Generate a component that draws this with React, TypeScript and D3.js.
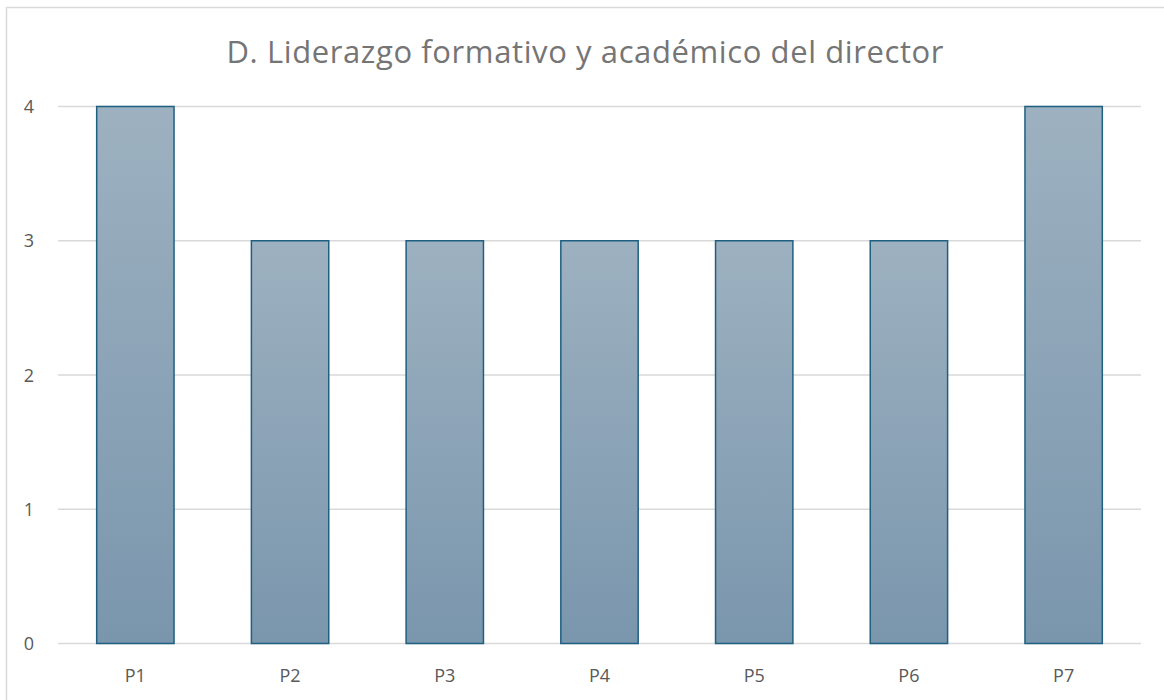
import React from "react";
import * as d3 from "d3";

const categories = ["P1", "P2", "P3", "P4", "P5", "P6", "P7"];
const values = [4, 3, 3, 3, 3, 3, 4];
const yTicks = [0, 1, 2, 3, 4];
const title = "D. Liderazgo formativo y académico del director";

export default function App() {
  const W = 1164, H = 700;
  const plot = { left: 58, right: 1141, top: 106.5, bottom: 643.5 };
  const x = d3.scaleBand<string>().domain(categories).range([plot.left, plot.right]).paddingInner(0.5).paddingOuter(0.25);
  const y = d3.scaleLinear().domain([0, 4]).range([plot.bottom, plot.top]);
  const font = "'Open Sans', 'Noto Sans', sans-serif";
  return (
    <div style={{ position: "absolute", left: 0, top: 0 }}>
      <svg width={W} height={H} style={{ display: "block" }}>
        <defs>
          <linearGradient id="barGrad" x1="0" y1="0" x2="0" y2="1">
            <stop offset="0%" stopColor="#9db1c0" />
            <stop offset="100%" stopColor="#7a96ad" />
          </linearGradient>
        </defs>
        <rect x={0} y={0} width={W} height={H} fill="#fff" />
        <rect x={6.5} y={7.5} width={1300} height={800} fill="#fff" stroke="#d9d9d9" strokeWidth={1.5} />
        <text x={585} y={63} textAnchor="middle" fontFamily={font} fontSize={31} fill="#757575" textLength={717} lengthAdjust="spacing">{title}</text>
        {yTicks.map((t) => (
          <g key={t}>
            <line x1={plot.left} x2={plot.right} y1={y(t)} y2={y(t)} stroke="#d9d9d9" strokeWidth={1.5} />
            <text x={29} y={y(t) + 6.5} textAnchor="middle" fontFamily={font} fontSize={18} fill="#595959">{t}</text>
          </g>
        ))}
        {categories.map((c, i) => (
          <g key={c}>
            <rect x={x(c)!} y={y(values[i])} width={x.bandwidth()} height={y(0) - y(values[i])} fill="url(#barGrad)" stroke="#1f5f80" strokeWidth={1.5} />
            <text x={x(c)! + x.bandwidth() / 2} y={682} textAnchor="middle" fontFamily={font} fontSize={18} fill="#595959">{c}</text>
          </g>
        ))}
      </svg>
    </div>
  );
}
